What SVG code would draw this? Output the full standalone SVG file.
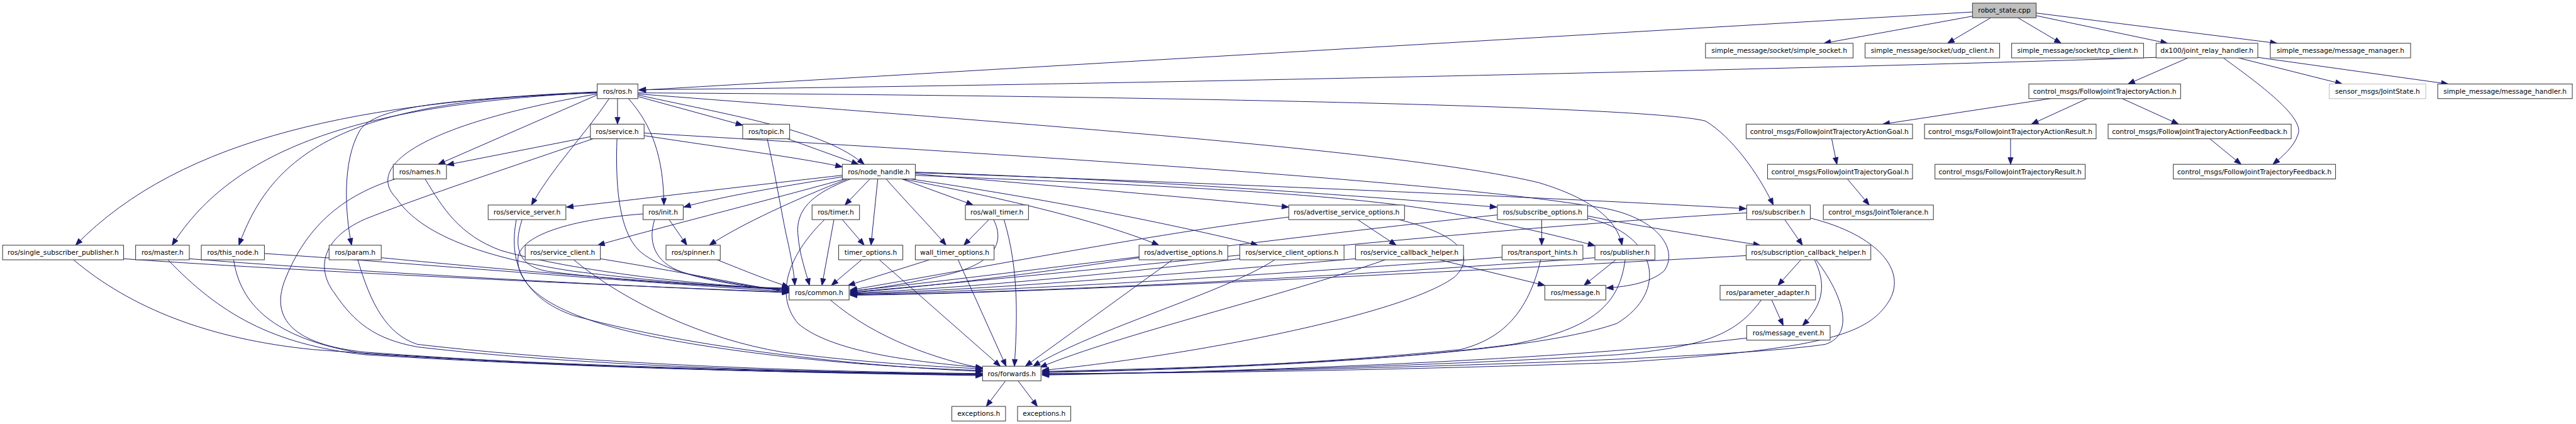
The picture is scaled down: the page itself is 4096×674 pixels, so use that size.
<svg xmlns="http://www.w3.org/2000/svg" width="4096" height="674" viewBox="0 0 4096 674">
<style>
.n rect{fill:#fff;stroke:#404040;stroke-width:1.3}
.n text{font-family:"DejaVu Sans","Liberation Sans",sans-serif;font-size:12.9px;fill:#000;text-anchor:middle}
#edges path{fill:none;stroke:#191970;stroke-width:1.2;marker-end:url(#a)}
</style>
<defs>
<marker id="a" markerUnits="userSpaceOnUse" markerWidth="14" markerHeight="11" refX="13" refY="5" orient="auto" viewBox="0 0 14 11" overflow="visible"><path d="M0,0 L13,5 L0,10 z" fill="#191970" stroke="#191970" stroke-width="1"/></marker>
</defs>
<rect width="4096" height="674" fill="#fff"/>
<g transform="scale(0.8293)">
<g id="edges">
<path d="M3782,23 L1225,173"/>
<path d="M3782,31 L3497,83"/>
<path d="M3817,34 L3734,83"/>
<path d="M3869,34 L3952,83"/>
<path d="M3904,30 L4156,83"/>
<path d="M3904,25 L4366,83"/>
<path d="M4134,110 C3500,132 2000,165 1225,172"/>
<path d="M4195,111 L4080,161"/>
<path d="M4263,111 C4330,160 4420,225 4406,258 C4398,282 4376,300 4358,315"/>
<path d="M4292,111 L4491,161"/>
<path d="M4329,110 L4694,161"/>
<path d="M3938,188 L3610,238"/>
<path d="M4002,189 L3895,238"/>
<path d="M4069,189 L4177,238"/>
<path d="M3512,266 L3522,315"/>
<path d="M3855,266 L3855,315"/>
<path d="M4237,266 L4297,315"/>
<path d="M3542,343 L3584,393"/>
<path d="M1184,189 L1184,238"/>
<path d="M1223,185 L1424,240"/>
<path d="M1145,182 L840,315"/>
<path d="M1168,189 C1120,260 1060,320 1019,393"/>
<path d="M1205,189 C1250,240 1272,300 1273,393"/>
<path d="M1223,182 C1420,225 1580,250 1657,315"/>
<path d="M1223,178 C2000,182 3150,200 3270,232 C3320,262 3370,330 3400,393"/>
<path d="M1223,180 C2000,240 2700,290 2950,350 C3050,380 3100,420 3110,470"/>
<path d="M1145,176 C700,195 350,260 145,470"/>
<path d="M1145,177 C700,200 450,280 330,470"/>
<path d="M1145,178 C650,190 520,300 458,470"/>
<path d="M1145,178 C850,190 720,205 690,250 C655,310 662,410 674,470"/>
<path d="M1145,180 C800,240 700,320 760,380 C800,440 900,490 1100,520 C1300,545 1450,552 1513,552"/>
<path d="M1132,262 L857,316"/>
<path d="M1235,260 C1400,285 1550,305 1615,320"/>
<path d="M1235,255 C2000,300 2800,350 3080,400 C3180,420 3220,480 3190,520 C3160,545 3110,550 3080,552"/>
<path d="M1183,266 C1180,350 1185,440 1225,480 C1280,530 1420,550 1513,557"/>
<path d="M1137,266 C950,330 800,380 700,420 C610,460 610,520 640,560 C680,620 720,650 800,665 C1100,700 1500,713 1884,717"/>
<path d="M1510,266 L1646,315"/>
<path d="M1471,266 C1490,350 1500,420 1512,470 C1518,500 1522,520 1524,547"/>
<path d="M815,343 C850,400 880,450 960,480 C1100,520 1350,548 1513,554"/>
<path d="M758,343 C640,380 580,450 545,540 C520,610 560,660 700,675 C1100,705 1500,714 1884,720"/>
<path d="M1668,343 L1620,393"/>
<path d="M1683,343 L1670,470"/>
<path d="M1699,343 C1740,390 1780,430 1814,470"/>
<path d="M1729,343 L1866,393"/>
<path d="M1615,336 C1400,360 1200,385 1086,397"/>
<path d="M1615,339 C1480,360 1370,380 1311,397"/>
<path d="M1620,343 C1450,390 1250,440 1146,470"/>
<path d="M1625,343 C1530,380 1420,430 1360,470"/>
<path d="M1631,343 C1560,370 1525,400 1530,450 C1533,490 1545,520 1552,547"/>
<path d="M1755,333 C2000,355 2300,380 2471,397"/>
<path d="M1755,330 C2200,345 2600,375 2870,397"/>
<path d="M1755,331 C2300,350 3000,380 3348,400"/>
<path d="M1755,336 C2200,355 2600,370 2800,412 C2900,432 3000,455 3058,471"/>
<path d="M1730,343 C1900,375 2100,420 2222,470"/>
<path d="M1745,343 C2000,380 2250,430 2412,470"/>
<path d="M1001,421 C985,470 990,510 1050,520 C1200,540 1400,550 1513,553"/>
<path d="M990,421 C975,500 1000,570 1100,605 C1300,660 1600,700 1884,712"/>
<path d="M1283,421 L1317,470"/>
<path d="M1255,421 C1240,470 1260,510 1320,525 C1400,545 1470,553 1513,556"/>
<path d="M1233,410 C1100,420 990,450 993,500 C995,560 1080,610 1250,645 C1450,685 1700,705 1884,710"/>
<path d="M1615,421 L1657,470"/>
<path d="M1599,421 L1576,547"/>
<path d="M1581,421 C1520,480 1480,560 1530,620 C1600,680 1780,695 1884,705"/>
<path d="M1896,421 L1848,470"/>
<path d="M1905,421 C1930,470 1900,510 1800,530 C1720,548 1660,555 1630,558"/>
<path d="M1925,421 C1955,520 1950,620 1945,702"/>
<path d="M2603,421 L2677,470"/>
<path d="M2471,416 C2200,450 1900,510 1630,556"/>
<path d="M2682,421 C2800,450 2830,490 2790,530 C2700,600 2300,680 1998,710"/>
<path d="M2956,421 L2956,470"/>
<path d="M3044,414 C3150,435 3280,455 3375,470"/>
<path d="M2871,412 C2500,450 1900,530 1630,558"/>
<path d="M3044,418 C3180,450 3200,560 3100,620 C2900,690 2300,705 1998,712"/>
<path d="M3422,421 L3456,470"/>
<path d="M3349,408 C2800,440 2000,530 1630,560"/>
<path d="M3471,418 C3600,450 3660,520 3620,580 C3580,640 3500,670 3100,695 C2600,712 2200,716 1998,716"/>
<path d="M237,496 C500,515 1100,545 1513,560"/>
<path d="M141,498 C250,590 400,650 600,670 C1000,700 1500,712 1884,718"/>
<path d="M363,496 C600,515 1100,545 1513,561"/>
<path d="M322,498 C420,600 520,660 700,680 C1100,705 1500,714 1884,719"/>
<path d="M507,486 C800,505 1200,540 1513,559"/>
<path d="M448,498 C460,580 520,650 700,678 C1100,705 1500,713 1884,718"/>
<path d="M731,494 C1000,520 1300,545 1513,556"/>
<path d="M686,498 C710,580 740,640 800,660 C1100,695 1500,712 1884,716"/>
<path d="M1151,496 C1300,520 1420,545 1513,560"/>
<path d="M1100,498 C1200,580 1350,650 1500,675 C1650,695 1800,703 1884,707"/>
<path d="M1375,498 C1430,520 1480,540 1513,550"/>
<path d="M1652,498 L1594,547"/>
<path d="M1686,498 L1918,702"/>
<path d="M1782,498 L1626,547"/>
<path d="M1837,498 L1929,702"/>
<path d="M2184,494 C1950,530 1750,552 1630,561"/>
<path d="M2248,498 L1966,702"/>
<path d="M2377,496 C2100,530 1800,555 1630,562"/>
<path d="M2444,498 C2350,560 2100,630 1981,702"/>
<path d="M2599,496 C2200,530 1850,558 1630,563"/>
<path d="M2656,498 C2450,570 2150,640 1994,704"/>
<path d="M2760,498 L2962,547"/>
<path d="M2880,493 C2400,530 1900,560 1630,564"/>
<path d="M2954,498 C2930,600 2880,650 2800,670 C2500,700 2200,710 1998,713"/>
<path d="M3058,494 C2500,535 1950,562 1630,565"/>
<path d="M3116,498 C3105,580 3060,630 2900,660 C2600,700 2200,710 1998,714"/>
<path d="M3098,498 L3037,547"/>
<path d="M3453,498 L3409,547"/>
<path d="M3479,498 C3500,540 3500,580 3456,624"/>
<path d="M3348,490 C2700,525 2000,562 1630,566"/>
<path d="M3482,498 C3530,560 3560,640 3500,660 C3300,690 2500,712 1998,717"/>
<path d="M1592,575 C1680,650 1800,690 1884,706"/>
<path d="M3397,575 L3419,624"/>
<path d="M3377,575 C3330,640 3270,665 3100,680 C2700,705 2200,715 1998,718"/>
<path d="M3349,648 C3000,690 2400,712 1998,719"/>
<path d="M1928,730 L1891,779"/>
<path d="M1952,730 L1989,779"/>
</g>
<g id="n1" class="n"><rect x="3782" y="6" width="122" height="28" style="fill:#bfbfbf"/><text x="3843" y="24.5">robot_state.cpp</text></g>
<g id="n2" class="n"><rect x="3270" y="83" width="283" height="28"/><text x="3411.5" y="101.5">simple_message/socket/simple_socket.h</text></g>
<g id="n3" class="n"><rect x="3576" y="83" width="258" height="28"/><text x="3705" y="101.5">simple_message/socket/udp_client.h</text></g>
<g id="n4" class="n"><rect x="3857" y="83" width="253" height="28"/><text x="3983.5" y="101.5">simple_message/socket/tcp_client.h</text></g>
<g id="n5" class="n"><rect x="4134" y="83" width="195" height="28"/><text x="4231.5" y="101.5">dx100/joint_relay_handler.h</text></g>
<g id="n6" class="n"><rect x="4353" y="83" width="269" height="28"/><text x="4487.5" y="101.5">simple_message/message_manager.h</text></g>
<g id="n7" class="n"><rect x="1145" y="161" width="78" height="28"/><text x="1184" y="179.5">ros/ros.h</text></g>
<g id="n8" class="n"><rect x="3890" y="161" width="291" height="28"/><text x="4035.5" y="179.5">control_msgs/FollowJointTrajectoryAction.h</text></g>
<g id="n9" class="n"><rect x="4466" y="161" width="185" height="28" style="stroke:#bfbfbf"/><text x="4558.5" y="179.5">sensor_msgs/JointState.h</text></g>
<g id="n10" class="n"><rect x="4674" y="161" width="258" height="28"/><text x="4803" y="179.5">simple_message/message_handler.h</text></g>
<g id="n11" class="n"><rect x="1132" y="238" width="103" height="28"/><text x="1183.5" y="256.5">ros/service.h</text></g>
<g id="n12" class="n"><rect x="1424" y="238" width="90" height="28"/><text x="1469" y="256.5">ros/topic.h</text></g>
<g id="n13" class="n"><rect x="3348" y="238" width="319" height="28"/><text x="3507.5" y="256.5">control_msgs/FollowJointTrajectoryActionGoal.h</text></g>
<g id="n14" class="n"><rect x="3690" y="238" width="329" height="28"/><text x="3854.5" y="256.5">control_msgs/FollowJointTrajectoryActionResult.h</text></g>
<g id="n15" class="n"><rect x="4042" y="238" width="351" height="28"/><text x="4217.5" y="256.5">control_msgs/FollowJointTrajectoryActionFeedback.h</text></g>
<g id="n16" class="n"><rect x="754" y="315" width="102" height="28"/><text x="805" y="333.5">ros/names.h</text></g>
<g id="n17" class="n"><rect x="1615" y="315" width="140" height="28"/><text x="1685" y="333.5">ros/node_handle.h</text></g>
<g id="n18" class="n"><rect x="3389" y="315" width="278" height="28"/><text x="3528" y="333.5">control_msgs/FollowJointTrajectoryGoal.h</text></g>
<g id="n19" class="n"><rect x="3710" y="315" width="288" height="28"/><text x="3854" y="333.5">control_msgs/FollowJointTrajectoryResult.h</text></g>
<g id="n20" class="n"><rect x="4167" y="315" width="311" height="28"/><text x="4322.5" y="333.5">control_msgs/FollowJointTrajectoryFeedback.h</text></g>
<g id="n21" class="n"><rect x="936" y="393" width="149" height="28"/><text x="1010.5" y="411.5">ros/service_server.h</text></g>
<g id="n22" class="n"><rect x="1233" y="393" width="77" height="28"/><text x="1271.5" y="411.5">ros/init.h</text></g>
<g id="n23" class="n"><rect x="1557" y="393" width="91" height="28"/><text x="1602.5" y="411.5">ros/timer.h</text></g>
<g id="n24" class="n"><rect x="1851" y="393" width="121" height="28"/><text x="1911.5" y="411.5">ros/wall_timer.h</text></g>
<g id="n25" class="n"><rect x="2471" y="393" width="222" height="28"/><text x="2582" y="411.5">ros/advertise_service_options.h</text></g>
<g id="n26" class="n"><rect x="2871" y="393" width="173" height="28"/><text x="2957.5" y="411.5">ros/subscribe_options.h</text></g>
<g id="n27" class="n"><rect x="3349" y="393" width="122" height="28"/><text x="3410" y="411.5">ros/subscriber.h</text></g>
<g id="n28" class="n"><rect x="3496" y="393" width="211" height="28"/><text x="3601.5" y="411.5">control_msgs/JointTolerance.h</text></g>
<g id="n29" class="n"><rect x="5" y="470" width="232" height="28"/><text x="121" y="488.5">ros/single_subscriber_publisher.h</text></g>
<g id="n30" class="n"><rect x="260" y="470" width="103" height="28"/><text x="311.5" y="488.5">ros/master.h</text></g>
<g id="n31" class="n"><rect x="386" y="470" width="121" height="28"/><text x="446.5" y="488.5">ros/this_node.h</text></g>
<g id="n32" class="n"><rect x="631" y="470" width="100" height="28"/><text x="681" y="488.5">ros/param.h</text></g>
<g id="n33" class="n"><rect x="1007" y="470" width="144" height="28"/><text x="1079" y="488.5">ros/service_client.h</text></g>
<g id="n34" class="n"><rect x="1277" y="470" width="104" height="28"/><text x="1329" y="488.5">ros/spinner.h</text></g>
<g id="n35" class="n"><rect x="1608" y="470" width="123" height="28"/><text x="1669.5" y="488.5">timer_options.h</text></g>
<g id="n36" class="n"><rect x="1755" y="470" width="151" height="28"/><text x="1830.5" y="488.5">wall_timer_options.h</text></g>
<g id="n37" class="n"><rect x="2184" y="470" width="170" height="28"/><text x="2269" y="488.5">ros/advertise_options.h</text></g>
<g id="n38" class="n"><rect x="2377" y="470" width="200" height="28"/><text x="2477" y="488.5">ros/service_client_options.h</text></g>
<g id="n39" class="n"><rect x="2599" y="470" width="207" height="28"/><text x="2702.5" y="488.5">ros/service_callback_helper.h</text></g>
<g id="n40" class="n"><rect x="2880" y="470" width="155" height="28"/><text x="2957.5" y="488.5">ros/transport_hints.h</text></g>
<g id="n41" class="n"><rect x="3058" y="470" width="115" height="28"/><text x="3115.5" y="488.5">ros/publisher.h</text></g>
<g id="n42" class="n"><rect x="3348" y="470" width="239" height="28"/><text x="3467.5" y="488.5">ros/subscription_callback_helper.h</text></g>
<g id="n43" class="n"><rect x="1513" y="547" width="115" height="28"/><text x="1570.5" y="565.5">ros/common.h</text></g>
<g id="n44" class="n"><rect x="2962" y="547" width="117" height="28"/><text x="3020.5" y="565.5">ros/message.h</text></g>
<g id="n45" class="n"><rect x="3298" y="547" width="183" height="28"/><text x="3389.5" y="565.5">ros/parameter_adapter.h</text></g>
<g id="n46" class="n"><rect x="3349" y="624" width="160" height="28"/><text x="3429" y="642.5">ros/message_event.h</text></g>
<g id="n47" class="n"><rect x="1884" y="702" width="112" height="28"/><text x="1940" y="720.5">ros/forwards.h</text></g>
<g id="n48" class="n"><rect x="1825" y="779" width="103" height="28"/><text x="1876.5" y="797.5">exceptions.h</text></g>
<g id="n49" class="n"><rect x="1951" y="779" width="102" height="28"/><text x="2002" y="797.5">exceptions.h</text></g>
</g>
</svg>
